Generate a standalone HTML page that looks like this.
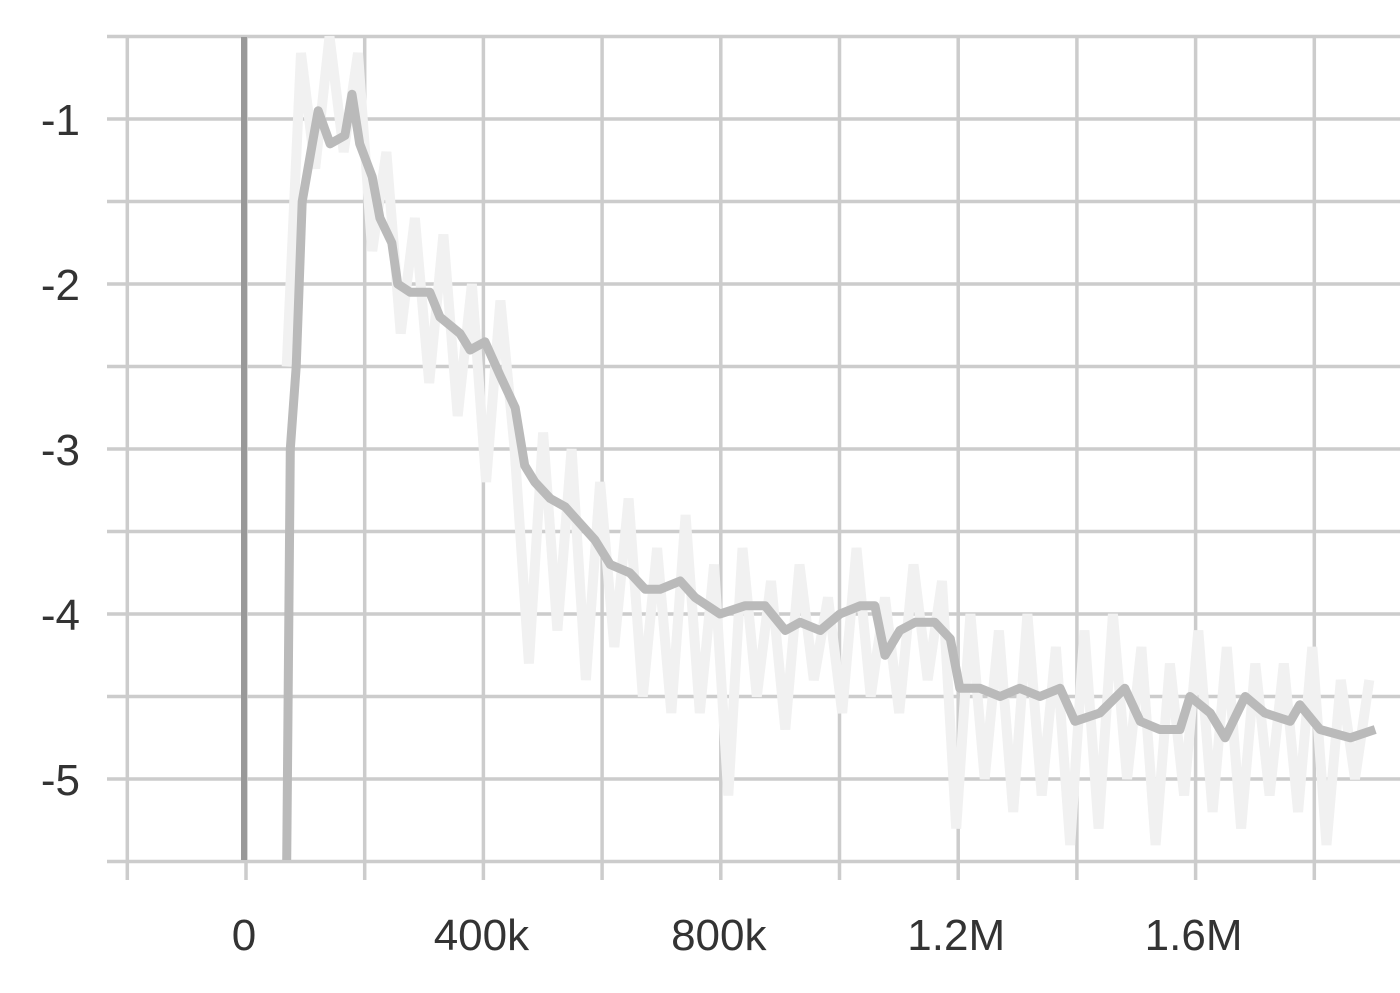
<!DOCTYPE html>
<html><head><meta charset="utf-8"><style>
html,body{margin:0;padding:0;background:#fff;}
svg{display:block;font-family:"Liberation Sans",sans-serif;}
</style></head><body>
<svg id="chart" width="1400" height="993"></svg>
<script>
const xTickValues=[0,400000,800000,1200000,1600000];
const xTickLabels=["0","400k","800k","1.2M","1.6M"];
const yTickValues=[-1,-2,-3,-4,-5];
const yTickLabels=["-1","-2","-3","-4","-5"];
const smoothSteps=[72,78,88,98,115,125,145,170,182,195,216,229,249,259,280,313,330,364,381,406,431,457,473,490,516,541,566,591,617,650,676,701,735,760,802,844,878,912,937,971,1004,1038,1063,1080,1105,1131,1164,1190,1206,1240,1274,1307,1341,1375,1400,1442,1484,1510,1543,1577,1594,1628,1653,1687,1720,1763,1779,1813,1864,1906];
const smoothValues=[-5.5,-3.0,-2.5,-1.5,-1.15,-0.95,-1.15,-1.1,-0.85,-1.15,-1.35,-1.6,-1.75,-2.0,-2.05,-2.05,-2.2,-2.3,-2.4,-2.35,-2.55,-2.75,-3.1,-3.2,-3.3,-3.35,-3.45,-3.55,-3.7,-3.75,-3.85,-3.85,-3.8,-3.9,-4.0,-3.95,-3.95,-4.1,-4.05,-4.1,-4.0,-3.95,-3.95,-4.25,-4.1,-4.05,-4.05,-4.15,-4.45,-4.45,-4.5,-4.45,-4.5,-4.45,-4.65,-4.6,-4.45,-4.65,-4.7,-4.7,-4.5,-4.6,-4.75,-4.5,-4.6,-4.65,-4.55,-4.7,-4.75,-4.7];
const rawSteps=[72,96,120,144,168,192,216,240,264,288,312,336,360,384,408,432,456,480,504,528,552,576,600,624,648,672,696,720,744,768,792,816,840,864,888,912,936,960,984,1008,1032,1056,1080,1104,1128,1152,1176,1200,1224,1248,1272,1296,1320,1344,1368,1392,1416,1440,1464,1488,1512,1536,1560,1584,1608,1632,1656,1680,1704,1728,1752,1776,1800,1824,1848,1872,1896];
const rawValues=[-2.5,-0.6,-1.3,-0.5,-1.2,-0.6,-1.8,-1.2,-2.3,-1.6,-2.6,-1.7,-2.8,-2.0,-3.2,-2.1,-3.0,-4.3,-2.9,-4.1,-3.0,-4.4,-3.2,-4.2,-3.3,-4.5,-3.6,-4.6,-3.4,-4.6,-3.7,-5.1,-3.6,-4.5,-3.8,-4.7,-3.7,-4.4,-3.9,-4.6,-3.6,-4.5,-3.9,-4.6,-3.7,-4.4,-3.8,-5.3,-4.0,-5.0,-4.1,-5.2,-4.0,-5.1,-4.2,-5.4,-4.1,-5.3,-4.0,-5.0,-4.2,-5.4,-4.3,-5.1,-4.1,-5.2,-4.2,-5.3,-4.3,-5.1,-4.3,-5.2,-4.2,-5.4,-4.4,-5.0,-4.4];

const NS="http://www.w3.org/2000/svg";
const svg=document.getElementById('chart');
const X0=128,X1=1400,Y0=37,Y1=860;
function xs(v){return 244+v/200000*118.7;}
function ys(v){return 119+(-1-v)*165;}
function mk(tag,attrs,parent){const e=document.createElementNS(NS,tag);for(const k in attrs)e.setAttribute(k,attrs[k]);(parent||svg).appendChild(e);return e;}

const defs=mk('defs',{});
const cp=mk('clipPath',{id:'clip'},defs);
mk('rect',{x:X0,y:Y0-4,width:X1-X0,height:Y1-Y0+4},cp);

const grid=mk('g',{});


for(let v=-200000;v<=2000000;v+=200000){
  const x=xs(v)+2; if(x>X1) break;
  const l=mk('line',{x1:x,x2:x,y1:Y0,y2:880,stroke:'#ccc','stroke-width':3.5},grid);
  
  
}
for(let v=-0.5;v>=-5.5;v-=0.5){
  const y=ys(v);
  const l=mk('line',{x1:107,x2:X1,y1:y,y2:y,stroke:'#ccc','stroke-width':3.5},grid);
  
  
}
const zl=mk('line',{x1:xs(0),x2:xs(0),y1:Y0,y2:Y1,stroke:'#999','stroke-width':6});



const rawPts=rawSteps.map((s,i)=>xs(s*1000).toFixed(1)+','+ys(rawValues[i]).toFixed(1)).join(' ');
const raw=mk('polyline',{points:rawPts,fill:'none',stroke:'#f1f1f1','stroke-width':10,'stroke-linejoin':'miter','clip-path':'url(#clip)'});



const smPts=smoothSteps.map((s,i)=>xs(s*1000).toFixed(1)+','+ys(smoothValues[i]).toFixed(1)).join(' ');
const sm=mk('polyline',{points:smPts,fill:'none',stroke:'#bababa','stroke-width':9,'stroke-linejoin':'round','clip-path':'url(#clip)'});



xTickValues.forEach((v,i)=>{
  const t=mk('text',{x:xs(v),y:950,'text-anchor':'middle','font-size':44,fill:'#333'});
  t.textContent=xTickLabels[i];
  
  
});
yTickValues.forEach((v,i)=>{
  const t=mk('text',{x:80,y:ys(v)+16,'text-anchor':'end','font-size':44,fill:'#333'});
  t.textContent=yTickLabels[i];
  
  
});
</script>
</body></html>
